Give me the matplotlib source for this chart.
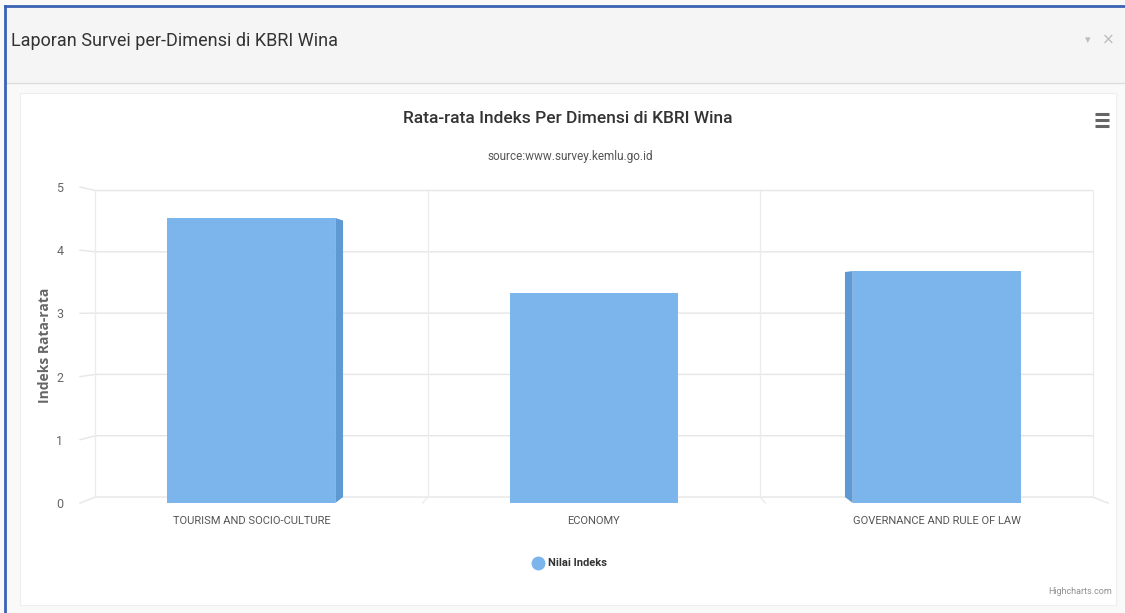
import matplotlib.pyplot as plt
from matplotlib.patches import Polygon, Rectangle
from matplotlib.lines import Line2D

# Data
categories = ["TOURISM AND SOCIO-CULTURE", "ECONOMY", "GOVERNANCE AND RULE OF LAW"]
nilai_indeks = [4.51, 3.32, 3.67]
y_ticks = [0, 1, 2, 3, 4, 5]

narrow = ["Roboto", "DejaVu Sans"]
bar_color = "#7cb5ec"
side_color = "#5f99d3"
grid_color = "#e6e6e6"

W, H = 1125, 613
fig = plt.figure(figsize=(W / 100, H / 100), dpi=100)
fig.patch.set_facecolor("#f9f9f9")

def fx(px):
    return px / W

def fy(py):
    return 1 - py / H

# panel header + chart container (behind the axes)
fig.patches.append(Rectangle((fx(5), fy(83)), fx(1120), 76 / H, transform=fig.transFigure,
                             facecolor="#f5f5f5", edgecolor="none", zorder=-2))
fig.lines.append(Line2D([fx(5), 1], [fy(83), fy(83)], transform=fig.transFigure, color="#dddddd",
                        lw=1, zorder=-1))
fig.patches.append(Rectangle((fx(20), fy(605)), fx(1096), (605 - 93) / H, transform=fig.transFigure,
                             facecolor="white", edgecolor="#eeeeee", lw=0.8, zorder=-2))
# blue frame
fig.lines.append(Line2D([fx(5), fx(5)], [0, fy(6)], transform=fig.transFigure, color="#3b62b5", lw=2))
fig.lines.append(Line2D([fx(5), 1], [fy(6), fy(6)], transform=fig.transFigure, color="#3b62b5", lw=2))

fig.text(fx(11), fy(41), "Laporan Survei per-Dimensi di KBRI Wina", family=narrow,
         fontsize=13, color="#333333", va="center", ha="left")
fig.text(fx(1088), fy(40), "▾", fontsize=8, color="#bbbbbb", ha="center", va="center")
fig.text(fx(1108), fy(40), "×", fontsize=11, color="#bbbbbb", ha="center", va="center")

# chart titles
fig.text(fx(568), fy(119), "Rata-rata Indeks Per Dimensi di KBRI Wina", family=narrow,
         fontsize=12.5, fontweight="medium", color="#333333", ha="center", va="center")
fig.text(fx(570), fy(157), "source:www.survey.kemlu.go.id", family=narrow,
         fontsize=8.5, color="#555555", ha="center", va="center")

# hamburger menu
for py in (114, 120, 126):
    fig.lines.append(Line2D([fx(1095), fx(1109)], [fy(py), fy(py)], transform=fig.transFigure,
                            color="#666666", lw=2.2, solid_capstyle="butt"))

# axes = front plane of the 3D box
ax = fig.add_axes([fx(80), fy(503), fx(1108 - 80), (503 - 187) / H])
ax.set_facecolor("none")
x = list(range(len(categories)))
width = 0.49

# perspective: back wall shrinks toward a vanishing point
k, cx, cy = 0.97, 1.0, 3.15

def back(px, py):
    return cx + k * (px - cx), cy + k * (py - cy)

# back wall grid
br = back(2.5, 0)[0]
for v in y_ticks:
    bx0, by = back(-0.5, v)
    ax.plot([-0.5, bx0, br], [v, by, by], color=grid_color, lw=1, zorder=1, clip_on=False)
ax.plot([br, 2.5], [back(2.5, 0)[1], 0], color=grid_color, lw=1, zorder=1, clip_on=False)
for xb in (-0.5, 0.5, 1.5, 2.5):
    (x0, y0), (x1, y1) = back(xb, 0), back(xb, 5)
    ax.plot([x0, x1], [y0, y1], color="#ececec", lw=1, zorder=1, clip_on=False)
    ax.plot([x0, xb], [y0, 0], color="#ececec", lw=1, zorder=1, clip_on=False)

ax.bar(x, nilai_indeks, width=width, color=bar_color, zorder=3, clip_on=False)

# side faces of the 3D columns
for xi, v in zip(x, nilai_indeks):
    if xi < cx:
        ex = xi + width / 2
    elif xi > cx:
        ex = xi - width / 2
    else:
        continue
    bx, btop = back(ex, v)
    _, bbot = back(ex, 0)
    ax.add_patch(Polygon([(ex, 0), (ex, v), (bx, btop), (bx, bbot)], closed=True,
                         facecolor=side_color, edgecolor="none", zorder=4, clip_on=False))

ax.set_xlim(-0.5, 2.5)
ax.set_ylim(0, 5)
ax.set_yticks(y_ticks)
ax.set_yticklabels([str(t) for t in y_ticks], family=narrow, fontsize=9, color="#666666")
ax.set_xticks(x)
ax.set_xticklabels(categories, family=narrow, fontsize=8, color="#555555")
ax.tick_params(axis="y", length=0, pad=12)
ax.tick_params(axis="x", length=0, pad=9)
for s in ax.spines.values():
    s.set_visible(False)

ax.set_ylabel("Indeks Rata-rata", family=["Open Sans", "DejaVu Sans"], fontsize=10,
              fontweight="bold", color="#666666", labelpad=3)

# legend
fig.lines.append(Line2D([fx(538)], [fy(563)], transform=fig.transFigure, marker="o",
                        markersize=9, color=bar_color, ls="none"))
fig.text(fx(548), fy(563), "Nilai Indeks", family=narrow, fontsize=8, fontweight="bold",
         color="#333333", ha="left", va="center")
fig.text(fx(1112), fy(591), "Highcharts.com", family=narrow, fontsize=6.5, color="#909090",
         ha="right", va="center")

fig.savefig("out.png", dpi=100, facecolor=fig.get_facecolor())
